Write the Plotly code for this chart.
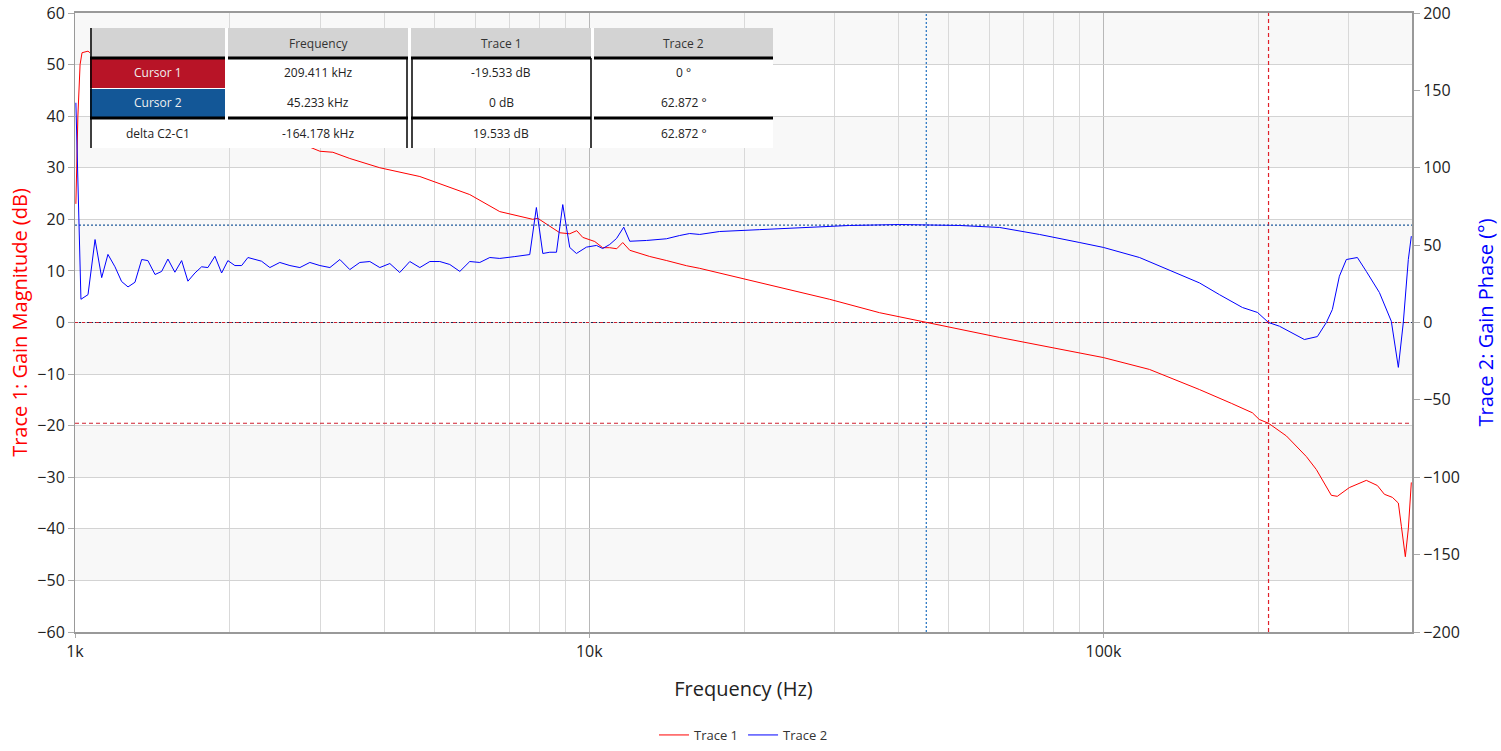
import plotly.graph_objects as go

# ---------------- data ----------------
mag_freq = [1004, 1013, 1023, 1032, 1060, 1069, 1223, 1463, 1750, 2188, 2618, 2862, 2994,
            3173, 3423, 3915, 4684, 5857, 6699, 7766, 7940, 8764, 9163, 9456, 9714, 10250,
            10620, 10960, 11310, 11620, 11990, 13110, 14150, 15470, 16400, 21450, 29340,
            36690, 45233, 62810, 100000, 122900, 153700, 165000, 177600, 194800, 200900,
            209411, 226900, 248100, 259400, 277400, 284900, 300700, 324500, 340900, 351800,
            364600, 374500, 379600, 386400, 391600, 396900]
mag_db = [23, 40, 50, 52.3, 52.6, 52.3, 48, 43, 39, 36, 34.3, 34.0, 33.2,
          33.0, 31.8, 30.0, 28.3, 24.8, 21.5, 20.0, 20.2, 17.4, 17.2, 17.8, 16.5, 15.7,
          14.5, 14.5, 14.3, 15.5, 14.0, 12.8, 12.0, 11.0, 10.5, 7.8, 4.5,
          1.9, 0.0, -2.9, -6.8, -9.1, -13.0, -14.3, -15.7, -17.5, -18.8,
          -19.533, -22.0, -26.0, -28.5, -33.5, -33.7, -32.0, -30.6, -31.6, -33.3,
          -33.9, -35.0, -39.5, -45.4, -40.0, -31.0]

phase_freq = [1004, 1012, 1018, 1027, 1060, 1094, 1127, 1159, 1196, 1232, 1268, 1308, 1348,
              1386, 1431, 1474, 1516, 1564, 1612, 1658, 1711, 1763, 1813, 1871, 1928, 1983,
              2046, 2109, 2169, 2238, 2306, 2393, 2502, 2618, 2737, 2862, 2994, 3131, 3274,
              3423, 3580, 3744, 3915, 4095, 4281, 4478, 4684, 4898, 5122, 5356, 5602, 5857,
              6126, 6407, 6699, 7166, 7662, 7893, 8123, 8381, 8636, 8882, 9164, 9443, 9876,
              10330, 10620, 10960, 11300, 11670, 11990, 12920, 14130, 14990, 15680, 16400,
              17930, 21450, 25650, 32080, 40130, 45233, 52500, 62810, 75080, 89820, 100000,
              117500, 140500, 153700, 168100, 186300, 199300, 209411, 219900, 245900, 260600,
              271300, 278700, 287600, 296700, 311700, 324500, 344000, 362900, 374500, 382900,
              391600, 396900]
phase_deg = [142, 97.8, 55.6, 15, 18, 53.6, 29, 44, 36, 26.5, 23, 26, 40.7,
             40, 31, 33, 41, 32.5, 40, 26.7, 32, 36, 35.5, 42.8, 32, 40,
             36.8, 36.8, 42, 40.7, 39.6, 35.5, 38.8, 36.8, 35.5, 38.8, 36.8, 35.5, 40.7,
             34.2, 38.8, 39.4, 35.5, 38.1, 32.3, 39.4, 35.5, 39.4, 39.4, 37.5, 33.0, 39.4,
             38.8, 42.0, 41.4, 42.6, 43.9, 74.3, 44.6, 45.4, 45.4, 76.2, 48.5, 44.6, 48.7,
             49.8, 47.8, 50.4, 54.3, 61.6, 52.5, 53.0, 54.1, 56.2, 57.5, 56.9,
             58.8, 60.0, 61.4, 62.7, 63.3, 62.872, 62.7, 61.4, 56.9, 51.7, 48.5,
             42.0, 31.0, 25.6, 18.0, 9.7, 6.5, 0.0, -2.4, -11.0, -9.1,
             0.0, 8.4, 29.9, 40.7, 42.0, 33.0, 19.4, 0.8, -29.0, 0.0,
             40.7, 55.8]

# cursors
cursor1_freq = 209411
cursor2_freq = 45233
cursor1_mag = -19.533
cursor1_phase = 0
cursor2_mag = 0
cursor2_phase = 62.872

# x ticks
x_tickvals = [1000, 10000, 100000]
x_ticktext = ["1k", "10k", "100k"]

# cursor table
table_header = ["", "Frequency", "Trace 1", "Trace 2"]
row_labels = ["Cursor 1", "Cursor 2", "delta C2-C1"]
freq_col = ["209.411 kHz", "45.233 kHz", "-164.178 kHz"]
trace1_col = ["-19.533 dB", "0 dB", "19.533 dB"]
trace2_col = ["0 °", "62.872 °", "62.872 °"]

# ---------------- styling / layout ----------------
FONT = "Open Sans, Noto Sans, sans-serif"
W, H = 1501, 751
# plot area in screen pixels
L, R, T, B = 75, 1412, 13, 632
XMIN, XMAX = 1000, 10 ** 5.6


def px(x):
    return (x - L) / (R - L)


def py(y):
    return (B - y) / (B - T)


fig = go.Figure()

# cursor reference lines (under the traces)
fig.add_trace(go.Scatter(x=[XMIN, XMAX], y=[cursor1_phase, cursor1_phase], yaxis="y2", mode="lines",
                         line=dict(color="#d02030", width=1, dash="3px,4px"),
                         showlegend=False, hoverinfo="skip"))
fig.add_trace(go.Scatter(x=[XMIN, XMAX], y=[cursor2_mag, cursor2_mag], mode="lines",
                         line=dict(color="#1a2a55", width=1.2, dash="2px,2px"),
                         showlegend=False, hoverinfo="skip"))
fig.add_trace(go.Scatter(x=[XMIN, XMAX], y=[cursor1_mag, cursor1_mag], mode="lines",
                         line=dict(color="#d02030", width=1.2, dash="4px,3px"),
                         showlegend=False, hoverinfo="skip"))
fig.add_trace(go.Scatter(x=[XMIN, XMAX], y=[cursor2_phase, cursor2_phase], yaxis="y2", mode="lines",
                         line=dict(color="#1f5a9a", width=1.2, dash="2px,2px"),
                         showlegend=False, hoverinfo="skip"))
fig.add_trace(go.Scatter(x=[cursor1_freq, cursor1_freq], y=[-60, 60], mode="lines",
                         line=dict(color="#e0202a", width=1.2, dash="4px,3px"),
                         showlegend=False, hoverinfo="skip"))
fig.add_trace(go.Scatter(x=[cursor2_freq, cursor2_freq], y=[-60, 60], mode="lines",
                         line=dict(color="#1f6fbf", width=1.2, dash="2px,2px"),
                         showlegend=False, hoverinfo="skip"))

# main traces
fig.add_trace(go.Scatter(x=mag_freq, y=mag_db, mode="lines", name="Trace 1",
                         line=dict(color="#ff0000", width=1)))
fig.add_trace(go.Scatter(x=phase_freq, y=phase_deg, mode="lines", name="Trace 2", yaxis="y2",
                         line=dict(color="#0000ff", width=1)))

shapes = []
# alternating horizontal bands
for top in range(60, -60, -20):
    shapes.append(dict(type="rect", xref="paper", yref="y", x0=0, x1=1, y0=top - 10, y1=top,
                       fillcolor="#f8f8f8", line=dict(width=0), layer="below"))

annotations = []

# ---- cursor table (pixel layout, screen coords) ----
col_edges = [(90, 225), (228, 408), (411, 591), (594, 773)]
row_edges = [(28, 58), (58, 88), (88, 118), (118, 148)]


def rect(x0, y0, x1, y1, fill):
    shapes.append(dict(type="rect", xref="paper", yref="paper", x0=px(x0), x1=px(x1),
                       y0=py(y1), y1=py(y0), fillcolor=fill, line=dict(width=0), layer="above"))


def line(x0, y0, x1, y1, color, width):
    shapes.append(dict(type="line", xref="paper", yref="paper", x0=px(x0), x1=px(x1),
                       y0=py(y0), y1=py(y1), line=dict(color=color, width=width), layer="above"))


def text(x, y, txt, color):
    annotations.append(dict(x=px(x), y=py(y), xref="paper", yref="paper", xanchor="center",
                            yanchor="middle", text=txt, showarrow=False,
                            font=dict(family=FONT, size=12, color=color)))


# white table body
rect(90, 28, 773, 148, "#ffffff")
# header cells
for (c0, c1) in col_edges:
    rect(c0, 28, c1, 58, "#d3d3d3")
# cursor colored cells
rect(90, 58, 225, 88, "#b81427")
rect(90, 89, 225, 118, "#135797")
# thick separators
for (c0, c1) in col_edges:
    line(c0, 58, c1, 58, "#000000", 3)
    line(c0, 118, c1, 118, "#000000", 3)
# vertical borders
line(91, 28, 91, 148, "#000000", 1.5)
line(407, 58, 407, 148, "#000000", 1.5)
line(412, 58, 412, 148, "#000000", 1.5)
line(591, 58, 591, 148, "#000000", 1.5)

for (c0, c1), txt in zip(col_edges, table_header):
    if txt:
        text((c0 + c1) / 2, 44, txt, "#333333")
cols = [row_labels, freq_col, trace1_col, trace2_col]
for ci, ((c0, c1), col) in enumerate(zip(col_edges, cols)):
    for ri, txt in enumerate(col):
        r0, r1 = row_edges[ri + 1]
        color = "#f0f0f0" if (ci == 0 and ri < 2) else "#222222"
        text((c0 + c1) / 2, (r0 + r1) / 2, txt, color)

fig.update_layout(
    width=W, height=H,
    margin=dict(l=L, r=W - R, t=T, b=H - B, pad=0, autoexpand=False),
    paper_bgcolor="#ffffff", plot_bgcolor="#ffffff",
    font=dict(family=FONT, size=16, color="#222222"),
    shapes=shapes, annotations=annotations,
    showlegend=True,
    legend=dict(orientation="h", x=0.5, xanchor="center", y=py(735), yanchor="middle",
                font=dict(family=FONT, size=13, color="#333333"), itemwidth=30,
                bgcolor="rgba(0,0,0,0)"),
    xaxis=dict(type="log", range=[3, 5.6], tickvals=x_tickvals, ticktext=x_ticktext,
               automargin=False, ticklabeloverflow="allow",
               showgrid=True, gridcolor="#b8b8b8", gridwidth=1,
               minor=dict(dtick="D1", showgrid=True, gridcolor="#d9d9d9", gridwidth=1, ticks=""),
               showline=True, linecolor="#999999", linewidth=2, mirror=True,
               ticks="outside", ticklen=4, tickcolor="#aaaaaa",
               tickfont=dict(size=16, color="#222222"), zeroline=False,
               title=dict(text="Frequency (Hz)", font=dict(size=20, color="#222222"), standoff=21)),
    yaxis=dict(range=[-60, 60], dtick=10, showgrid=True, gridcolor="#d3d3d3", gridwidth=1,
               automargin=False, ticklabeloverflow="allow",
               zeroline=False, showline=True, linecolor="#999999", linewidth=1,
               ticks="outside", ticklen=6, tickcolor="#aaaaaa",
               tickfont=dict(size=16, color="#222222"),
               title=dict(text="Trace 1: Gain Magnitude (dB)", font=dict(size=20, color="#ff0000"), standoff=4)),
    yaxis2=dict(range=[-200, 200], dtick=50, overlaying="y", side="right", showgrid=False,
                automargin=False, ticklabeloverflow="allow",
                zeroline=False, showline=True, linecolor="#999999", linewidth=2,
                ticks="outside", ticklen=6, tickcolor="#aaaaaa",
                tickfont=dict(size=16, color="#222222"),
                title=dict(text="Trace 2: Gain Phase (°)", font=dict(size=20, color="#0000ff"), standoff=20)),
)

fig.write_html("out.html", config={"displayModeBar": False},
               post_script="document.body.style.margin='0';document.body.style.overflow='hidden';")
